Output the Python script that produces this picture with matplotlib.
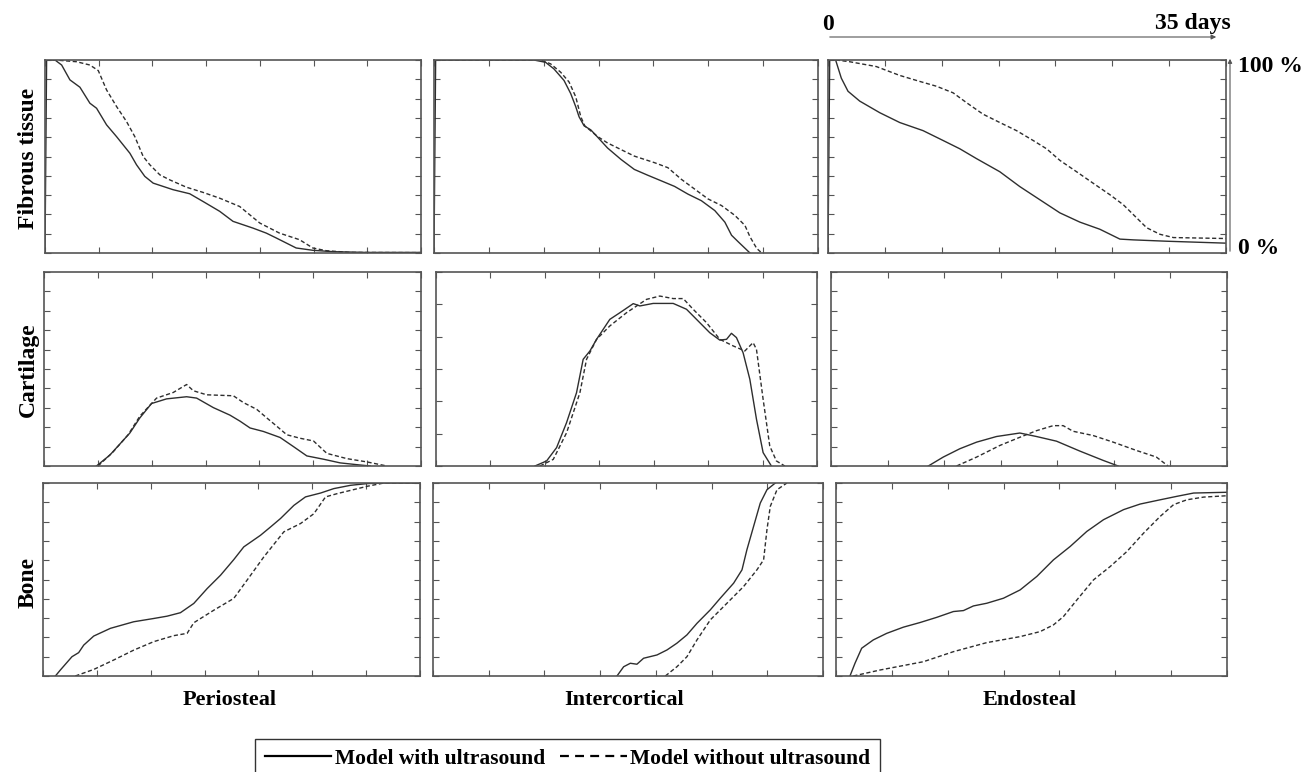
import matplotlib
matplotlib.use('Agg')
import matplotlib.pyplot as plt
from matplotlib.lines import Line2D
from matplotlib.patches import FancyArrowPatch

plt.rcParams['font.family'] = ['Liberation Serif', 'DejaVu Serif']
plt.rcParams['font.weight'] = 'bold'

# days (x) and percentage (y)
# --- Fibrous tissue ---
fib_peri_us_x = [0, 0.15, 0.93, 1.55, 2.32, 3.25, 4.18, 4.8, 5.73, 6.66, 7.9, 8.52, 9.29, 10.07, 11.92, 13.47,
                 14.71, 16.26, 17.5, 19.36, 20.6, 21.52, 22.45, 23.38, 24.93, 26.79, 29.89, 35]
fib_peri_us_y = [0, 100, 100, 97.4, 89.7, 85.9, 77.6, 75.0, 66.4, 60.3, 51.7, 45.7, 39.7, 36.2, 32.8, 30.7,
                 26.7, 21.6, 16.4, 12.9, 10.3, 7.8, 5.2, 2.6, 1.4, 0.7, 0.3, 0.3]
fib_peri_no_x = [0.1, 0.93, 2.94, 4.18, 4.96, 5.73, 6.66, 7.59, 8.36, 9.14, 9.76, 10.69, 11.61, 13.16, 14.71,
                 16.26, 18.12, 20.0, 21.83, 23.69, 24.93, 26.17, 28.34, 35]
fib_peri_no_y = [100, 100, 99.1, 97.4, 94.5, 84.5, 75.9, 68.1, 60.3, 50.0, 45.7, 40.5, 37.9, 34.1, 31.4,
                 28.4, 24.1, 15.5, 10.3, 6.9, 2.6, 1.2, 0.3, 0.2]

fib_inter_us_x = [0, 0.15, 9.1, 10.17, 10.93, 11.85, 12.46, 12.92, 13.22, 13.68, 14.29, 14.9, 15.82, 17.04,
                  18.26, 19.48, 20.71, 21.93, 23.15, 24.37, 25.59, 26.51, 27.12, 27.73, 28.8]
fib_inter_us_y = [0, 100, 100, 98.8, 95.4, 89.4, 82.6, 75.8, 70.6, 65.9, 63.8, 60.1, 54.4, 48.5,
                  43.3, 40.3, 37.4, 34.5, 30.5, 27.1, 22.0, 16.0, 9.2, 5.8, 0]
fib_inter_no_x = [0.1, 9.71, 10.63, 11.54, 12.31, 12.92, 13.38, 13.74, 14.9, 15.82, 17.04, 18.26, 20.1, 21.32,
                  22.54, 23.76, 24.98, 26.2, 27.42, 28.34, 28.8, 29.41, 29.87]
fib_inter_no_y = [100, 100, 98.0, 93.7, 88.6, 80.9, 70.6, 65.9, 60.4, 57.0, 53.6, 50.2, 46.8, 44.2,
                  38.2, 33.1, 28.0, 24.6, 19.5, 14.3, 8.4, 2.4, 0]

fib_endo_us_x = [0, 0.15, 0.67, 1.17, 1.76, 2.79, 4.55, 6.31, 8.36, 10.12, 11.59, 13.06, 15.11, 16.87, 18.63,
                 20.39, 22.15, 23.91, 25.67, 26.85, 29.78, 35]
fib_endo_us_y = [0, 100, 100, 90.6, 83.8, 78.7, 72.7, 67.6, 63.4, 58.3, 54.0, 48.9, 42.1, 34.4, 27.6,
                 20.8, 16.0, 12.3, 7.2, 6.8, 6.1, 5.1]
fib_endo_no_x = [0.1, 0.73, 1.91, 4.25, 6.31, 8.07, 9.54, 11.0, 12.18, 13.64, 15.11, 16.58, 18.04, 19.22,
                 20.39, 21.86, 23.33, 24.79, 25.97, 26.85, 28.02, 29.19, 30.37, 35]
fib_endo_no_y = [100, 100, 99.1, 96.6, 92.0, 88.9, 86.4, 83.0, 77.9, 71.9, 67.6, 63.4, 58.3, 54.0,
                 48.0, 42.1, 36.1, 30.2, 25.0, 19.9, 13.1, 9.7, 8.0, 7.5]

# --- Cartilage ---
car_peri_us_x = [4.87, 6.11, 7.97, 8.9, 9.98, 11.38, 13.24, 14.17, 15.72, 17.27, 18.2, 19.13, 20.37, 21.92,
                 23.16, 24.4, 25.95, 27.5, 29.36, 30.29]
car_peri_us_y = [0, 5.6, 17.0, 24.8, 32.2, 34.6, 35.7, 35.0, 30.1, 26.2, 23.1, 19.6, 17.8, 14.7,
                 10.0, 5.2, 3.5, 1.6, 0.5, 0]
car_peri_no_x = [5.02, 6.42, 7.81, 8.9, 10.45, 12.0, 13.24, 13.86, 15.1, 17.58, 18.51, 19.75, 20.68, 21.61,
                 22.54, 23.78, 25.02, 26.26, 28.12, 29.98, 31.84]
car_peri_no_y = [0, 7.3, 16.1, 25.7, 35.0, 37.9, 42.0, 38.8, 36.7, 36.2, 32.7, 29.2, 24.8, 20.5,
                 16.1, 14.3, 12.9, 6.5, 3.8, 2.1, 0]

car_inter_us_x = [9.09, 10.16, 11.08, 11.99, 12.91, 13.52, 14.14, 14.75, 15.97, 16.89, 18.12, 18.73, 19.95,
                  21.79, 23.01, 23.93, 25.15, 26.07, 26.69, 27.14, 27.6, 28.21, 28.83, 29.44, 30.05, 30.81]
car_inter_us_y = [0, 2.6, 9.5, 22.3, 37.8, 55.0, 59.3, 65.3, 75.6, 79.0, 83.7, 82.5, 83.8,
                  83.8, 80.8, 75.6, 68.7, 64.9, 65.3, 68.4, 66.2, 58.4, 44.7, 24.1, 6.9, 0]
car_inter_no_x = [9.55, 10.77, 12.0, 13.22, 13.83, 14.75, 15.97, 17.5, 19.34, 20.56, 21.79, 22.71, 23.62,
                  24.85, 26.07, 27.3, 28.37, 29.13, 29.44, 30.05, 30.66, 31.27, 32.04]
car_inter_no_y = [0, 3.4, 17.2, 37.8, 55.0, 65.3, 72.2, 79.0, 85.9, 87.6, 86.3, 86.3, 80.8,
                  73.9, 65.3, 61.9, 59.3, 63.6, 60.1, 34.4, 10.3, 2.6, 0]

car_endo_us_x = [8.6, 9.92, 11.39, 12.87, 14.63, 16.69, 18.16, 19.93, 21.99, 24.05, 25.38]
car_endo_us_y = [0, 4.6, 8.9, 12.3, 15.2, 17.0, 15.2, 12.8, 7.7, 2.9, 0]
car_endo_no_x = [11.1, 12.87, 14.93, 16.69, 18.16, 19.64, 20.52, 21.4, 23.17, 24.94, 27.0, 28.76, 29.79]
car_endo_no_y = [0, 4.6, 10.6, 14.8, 18.2, 20.8, 20.8, 17.9, 15.7, 12.3, 8.0, 4.6, 0]

# --- Bone ---
bone_peri_us_x = [1.15, 1.61, 2.69, 3.31, 3.78, 4.71, 6.26, 8.42, 10.28, 11.52, 12.76, 14.0, 15.24, 16.48,
                  17.71, 18.64, 20.19, 21.12, 22.05, 23.29, 24.37, 25.77, 27.0, 28.55, 30.1, 31.65, 35]
bone_peri_us_y = [0, 3.1, 10.0, 12.1, 16.0, 20.7, 24.7, 28.1, 29.8, 31.0, 32.8, 37.6, 45.3, 52.2,
                  60.3, 66.9, 72.9, 77.2, 81.6, 88.4, 92.8, 94.8, 97.1, 98.8, 99.7, 100, 100]
bone_peri_no_x = [3.0, 4.71, 6.57, 8.42, 10.28, 12.14, 13.38, 14.0, 15.86, 17.71, 18.95, 20.5, 22.36, 23.91,
                  25.15, 26.23, 27.32, 28.86, 30.1, 31.65, 35]
bone_peri_no_y = [0, 3.4, 8.3, 13.4, 17.8, 20.9, 22.1, 27.6, 34.1, 40.2, 49.7, 61.7, 74.7, 79.0,
                  84.1, 92.8, 94.5, 96.6, 98.3, 100, 100]

bone_inter_us_x = [16.51, 17.11, 17.71, 18.3, 18.9, 20.1, 21.0, 21.89, 22.79, 23.69, 24.89, 25.78, 26.98,
                   27.73, 28.17, 28.77, 29.37, 29.97, 30.72]
bone_inter_us_y = [0, 4.8, 6.6, 6.1, 9.2, 10.9, 13.5, 17.0, 21.3, 27.3, 34.3, 40.3, 48.1,
                   55.0, 65.4, 77.5, 89.6, 96.5, 100]
bone_inter_no_x = [20.85, 21.89, 22.79, 23.69, 24.89, 26.38, 27.88, 29.07, 29.67, 29.97, 30.27, 30.87, 31.76]
bone_inter_no_y = [0, 4.8, 10.0, 18.7, 29.1, 37.7, 46.4, 55.0, 60.2, 75.8, 87.9, 96.5, 100]

bone_endo_us_x = [1.25, 1.7, 2.3, 3.34, 4.54, 6.03, 7.52, 9.02, 10.51, 11.41, 12.3, 13.5, 14.99, 16.48,
                  17.98, 19.47, 20.96, 22.45, 23.95, 25.74, 27.23, 29.02, 30.52, 32.01, 35]
bone_endo_us_y = [0, 6.6, 14.4, 18.7, 22.1, 25.3, 27.7, 30.4, 33.4, 33.9, 36.3, 37.7, 40.3, 44.6,
                  51.6, 60.2, 67.1, 74.9, 81.0, 86.2, 89.1, 91.3, 93.1, 94.8, 95.2]
bone_endo_no_x = [1.55, 3.94, 7.82, 10.51, 13.5, 16.48, 18.27, 19.47, 20.36, 21.56, 23.05, 24.54, 26.04,
                  27.53, 29.02, 30.22, 31.41, 32.91, 35]
bone_endo_no_y = [0, 3.1, 7.4, 12.6, 17.3, 20.4, 23.0, 26.5, 30.8, 39.4, 49.8, 56.7, 64.5,
                  74.0, 82.7, 88.8, 91.3, 92.7, 93.4]

tissues = ['Fibrous tissue', 'Cartilage', 'Bone']
regions = ['Periosteal', 'Intercortical', 'Endosteal']
legend_labels = ['Model with ultrasound', 'Model without ultrasound']

series = [
    [(fib_peri_us_x, fib_peri_us_y, fib_peri_no_x, fib_peri_no_y),
     (fib_inter_us_x, fib_inter_us_y, fib_inter_no_x, fib_inter_no_y),
     (fib_endo_us_x, fib_endo_us_y, fib_endo_no_x, fib_endo_no_y)],
    [(car_peri_us_x, car_peri_us_y, car_peri_no_x, car_peri_no_y),
     (car_inter_us_x, car_inter_us_y, car_inter_no_x, car_inter_no_y),
     (car_endo_us_x, car_endo_us_y, car_endo_no_x, car_endo_no_y)],
    [(bone_peri_us_x, bone_peri_us_y, bone_peri_no_x, bone_peri_no_y),
     (bone_inter_us_x, bone_inter_us_y, bone_inter_no_x, bone_inter_no_y),
     (bone_endo_us_x, bone_endo_us_y, bone_endo_no_x, bone_endo_no_y)],
]

W, H = 1306, 772
fig = plt.figure(figsize=(W / 100, H / 100), dpi=100)

# panel boxes in pixels: (top, bottom) per row, (left, right) per panel
rows_px = [(60, 253), (272, 466), (483, 676)]
cols_px = [[(45, 421), (434, 818), (828, 1226)],
           [(44, 421), (436, 817), (831, 1227)],
           [(43, 420), (433, 823), (836, 1227)]]

edge = '#555555'
line_c = '#2e2e2e'
for r in range(3):
    t, b = rows_px[r]
    for c in range(3):
        l, rr = cols_px[r][c]
        ax = fig.add_axes([l / W, 1 - b / H, (rr - l) / W, (b - t) / H])
        usx, usy, nox, noy = series[r][c]
        ax.plot(usx, usy, color=line_c, lw=1.0, solid_joinstyle='round')
        ax.plot(nox, noy, color=line_c, lw=1.0, ls=(0, (3, 1.8)))
        ax.set_xlim(0, 35)
        ax.set_ylim(0, 100)
        ax.set_xticks(range(0, 36, 5))
        ndiv = 6 if (r == 1 and c == 1) else 10
        ax.set_yticks([100 * i / ndiv for i in range(ndiv + 1)])
        ax.tick_params(direction='in', length=4, width=0.8, color=edge,
                       top=True, right=True, labelbottom=False, labelleft=False)
        for s in ax.spines.values():
            s.set_color(edge)
            s.set_linewidth(1.2)

fs = 17
for name, yc in zip(tissues, [158, 370, 583]):
    fig.text(28 / W, 1 - yc / H, name, rotation=90, ha='center', va='center', fontsize=fs, fontweight='bold')
for name, xc in zip(regions, [230, 624, 1030]):
    fig.text(xc / W, 1 - 700 / H, name, ha='center', va='center', fontsize=16, fontweight='bold')

# time / percentage arrows at top right
fig.add_artist(FancyArrowPatch((827 / W, 1 - 37 / H), (1219 / W, 1 - 37 / H),
               transform=fig.transFigure, arrowstyle='-|>', mutation_scale=7, lw=0.8, color=edge))
fig.add_artist(FancyArrowPatch((1230 / W, 1 - 254 / H), (1230 / W, 1 - 56 / H),
               transform=fig.transFigure, arrowstyle='-|>', mutation_scale=6, lw=0.8, color=edge))
fig.text(828 / W, 1 - 24 / H, '0', ha='center', va='center', fontsize=fs, fontweight='bold')
fig.text(1231 / W, 1 - 24 / H, '35 days', ha='right', va='center', fontsize=fs, fontweight='bold')
fig.text(1238 / W, 1 - 66 / H, '100 %', ha='left', va='center', fontsize=fs, fontweight='bold')
fig.text(1238 / W, 1 - 248 / H, '0 %', ha='left', va='center', fontsize=fs, fontweight='bold')

handles = [Line2D([], [], color='black', lw=1.6),
           Line2D([], [], color='black', lw=1.6, ls=(0, (4, 2.8)))]
leg = fig.legend(handles, legend_labels, ncol=2, loc='upper left',
                 bbox_to_anchor=(255 / W, 1 - 739 / H), borderaxespad=0, frameon=True, fancybox=False,
                 handlelength=3.1, handletextpad=0.15, columnspacing=0.7,
                 borderpad=0.45, prop={'weight': 'bold', 'size': 15.5})
leg.get_frame().set_edgecolor('black')
leg.get_frame().set_linewidth(1.0)

fig.savefig('out.png', dpi=100)
